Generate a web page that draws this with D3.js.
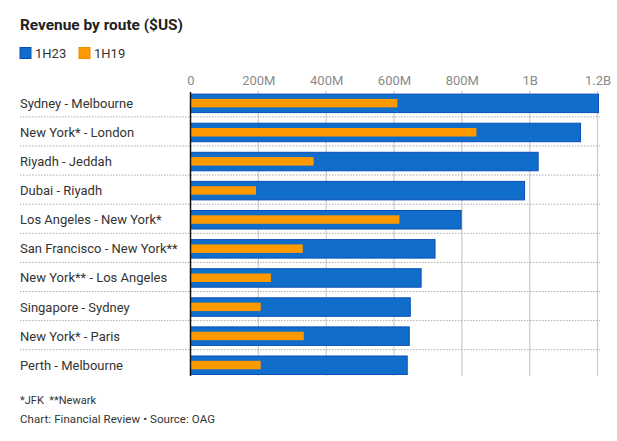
<!DOCTYPE html>
<html><head><meta charset="utf-8">
<script src="https://cdn.jsdelivr.net/npm/d3@7"></script>
<style>
body{margin:0;background:#fff;}
</style></head><body>
<svg id="c" width="617" height="441"></svg>
<script>
const routes = ["Sydney - Melbourne","New York* - London","Riyadh - Jeddah","Dubai - Riyadh","Los Angeles - New York*","San Francisco - New York**","New York** - Los Angeles","Singapore - Sydney","New York* - Paris","Perth - Melbourne"];
const v1H23 = [1203e6,1150e6,1025e6,985e6,798e6,721e6,680e6,648e6,645e6,639e6];
const v1H19 = [610e6,843e6,363e6,193e6,616e6,331e6,237e6,207e6,334e6,207e6];
const ticks = [0,200e6,400e6,600e6,800e6,1000e6,1200e6];
const tickLabels = ["0","200M","400M","600M","800M","1B","1.2B"];
const seriesNames = ["1H23","1H19"];
const colors = ["#116dca","#ff9900"];

const svg = d3.select("#c");
const font = 'Roboto,"Noto Sans",sans-serif';

svg.append("text").attr("x",20).attr("y",30).attr("font-size",15.5).attr("font-weight","bold")
  .attr("fill","#222").attr("font-family",font)
  .attr("textLength",163).attr("lengthAdjust","spacingAndGlyphs")
  .text("Revenue by route ($US)");

// legend
const lg = svg.append("g");
let lx = 20;
seriesNames.forEach((s,i)=>{
  lg.append("rect").attr("x",lx).attr("y",47.5).attr("width",11).attr("height",11)
    .attr("fill",colors[i]).attr("stroke",i===0?"#0a4fb8":"#f08c00").attr("stroke-width",1);
  lg.append("text").attr("x",lx+15).attr("y",57.5).attr("font-size",13).attr("fill","#333")
    .attr("font-family",font).text(s);
  lx += 59;
});

const x = d3.scaleLinear().domain([0,1.2e9]).range([190.5,597.5]);
const y = d3.scaleBand().domain(routes).range([88.3,379.3]).paddingInner(0).paddingOuter(0);
const rowH = y.bandwidth();

// gridlines
svg.append("g").selectAll("line").data(ticks.slice(1)).join("line")
  .attr("x1",d=>x(d)).attr("x2",d=>x(d)).attr("y1",91).attr("y2",376)
  .attr("stroke","#d0d0d0").attr("stroke-width",1.3);

// separators
svg.append("g").selectAll("line").data(routes.slice(1)).join("line")
  .attr("x1",20).attr("x2",600).attr("y1",d=>y(d)-0.5).attr("y2",d=>y(d)-0.5)
  .attr("stroke","#aaa").attr("stroke-width",1).attr("stroke-dasharray","1.5,1.5");

// tick labels
const xAxis = d3.axisTop(x).tickValues(ticks).tickFormat((d,i)=>tickLabels[i]).tickSize(0);
const ax = svg.append("g").attr("transform","translate(0,87.5)").call(xAxis);
ax.select(".domain").remove();
ax.selectAll("text").attr("font-size",13).attr("fill","#8a8a8a").attr("font-family",font).attr("dy",0);

// bars
const bh = 18.5, oh = 8.5;
svg.append("g").selectAll("rect").data(routes).join("rect")
  .attr("x",x(0)).attr("y",d=>y(d)+rowH/2+0.5-bh/2)
  .attr("width",(d,i)=>x(v1H23[i])-x(0)).attr("height",bh)
  .attr("fill",colors[0]).attr("stroke","#0a4fb8").attr("stroke-width",1);
svg.append("g").selectAll("rect").data(routes).join("rect")
  .attr("x",x(0)).attr("y",d=>y(d)+rowH/2+0.3-oh/2)
  .attr("width",(d,i)=>x(v1H19[i])-x(0)).attr("height",oh)
  .attr("fill",colors[1]);

// axis line
svg.append("line").attr("x1",x(0)).attr("x2",x(0)).attr("y1",92).attr("y2",376)
  .attr("stroke","#111").attr("stroke-width",1.5);

// category labels
svg.append("g").selectAll("text").data(routes).join("text")
  .attr("x",20).attr("y",d=>y(d)+rowH/2+5).attr("font-size",13).attr("fill","#333")
  .attr("font-family",font).text(d=>d);

// footer
svg.append("text").attr("x",20).attr("y",404).attr("font-size",11).attr("fill","#333")
  .attr("font-family",font).attr("xml:space","preserve").text("*JFK  **Newark");
svg.append("text").attr("x",20).attr("y",423).attr("font-size",11.5).attr("fill","#333")
  .attr("font-family",font).attr("textLength",195).attr("lengthAdjust","spacing")
  .text("Chart: Financial Review • Source: OAG");
</script></body></html>
